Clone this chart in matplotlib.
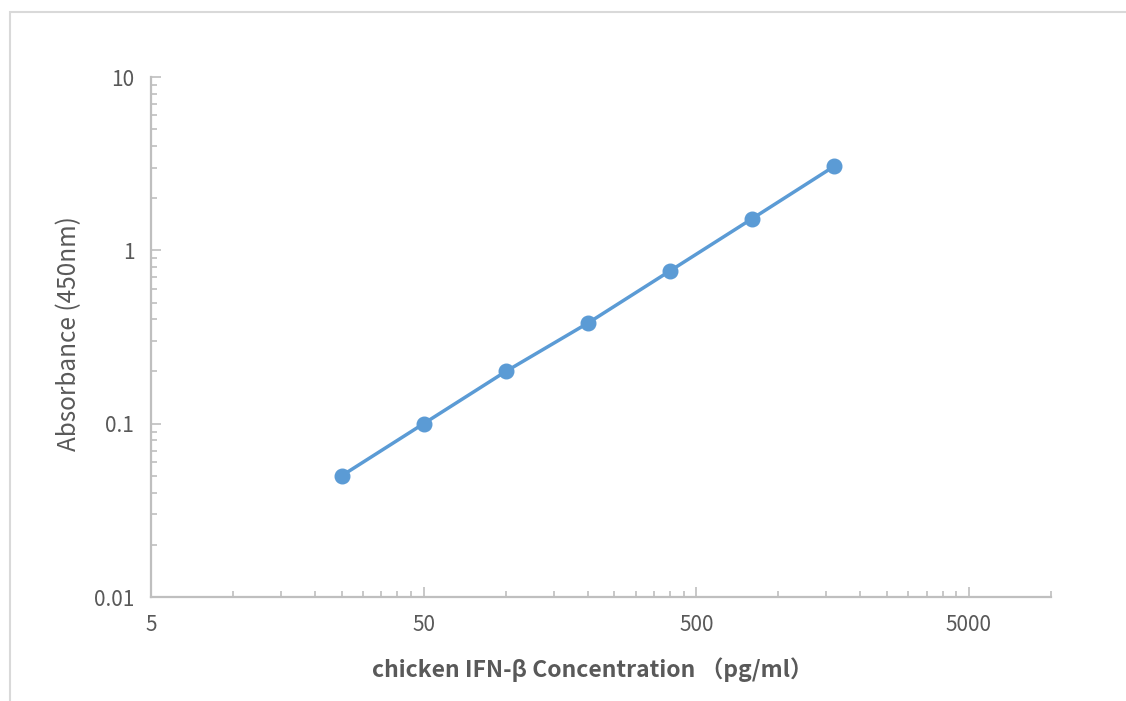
import numpy as np
import matplotlib
matplotlib.use("Agg")
import matplotlib.pyplot as plt
from matplotlib.patches import Rectangle
from matplotlib.ticker import FixedLocator, NullFormatter

plt.rcParams['font.family'] = ['Noto Sans CJK SC', 'DejaVu Sans']

# standard curve
conc = [25, 50, 100, 200, 400, 800, 1600]
absorb = [0.05, 0.1, 0.2, 0.38, 0.76, 1.52, 3.05]

x_major = [5, 50, 500, 5000]
x_labels = ['5', '50', '500', '5000']
y_major = [0.01, 0.1, 1, 10]
y_labels = ['0.01', '0.1', '1', '10']

blue = '#5b9bd5'
grey = '#bfbfbf'
txt = '#595959'

fig = plt.figure(figsize=(11.26, 7.01), dpi=100)
fig.patches.append(Rectangle((10 / 1126, -0.1), 1.2, 0.1 + (701 - 12) / 701,
                             transform=fig.transFigure, fill=False,
                             edgecolor='#d9d9d9', lw=1.5))

ax = fig.add_axes([151 / 1126, 104 / 701, 900 / 1126, 520 / 701])
ax.plot(conc, absorb, color=blue, lw=2.5, marker='o', ms=10.5, zorder=3)

ax.set_xscale('log')
ax.set_yscale('log')
ax.set_xlim(5, 10000)
ax.set_ylim(0.01, 10)

x_minor = [d * k for d in x_major for k in range(2, 10) if d * k <= 10000]
y_minor = [d * k for d in y_major[:-1] for k in range(2, 10)]

ax.xaxis.set_major_locator(FixedLocator(x_major))
ax.xaxis.set_minor_locator(FixedLocator(x_minor))
ax.yaxis.set_major_locator(FixedLocator(y_major))
ax.yaxis.set_minor_locator(FixedLocator(y_minor))
ax.set_xticklabels(x_labels)
ax.set_yticklabels(y_labels)
ax.xaxis.set_minor_formatter(NullFormatter())
ax.yaxis.set_minor_formatter(NullFormatter())

for side in ['top', 'right']:
    ax.spines[side].set_visible(False)
for side in ['left', 'bottom']:
    ax.spines[side].set_color(grey)
    ax.spines[side].set_linewidth(1.6)

ax.tick_params(axis='x', which='major', direction='in', length=7, width=1.2,
               color=grey, labelsize=15, labelcolor=txt, pad=12)
ax.tick_params(axis='x', which='minor', direction='in', length=4.5, width=1.2,
               color=grey)
ax.tick_params(axis='y', which='major', direction='in', length=7, width=1.2,
               color=grey, labelsize=15, labelcolor=txt, pad=12)
ax.tick_params(axis='y', which='minor', direction='in', length=4.5, width=1.2,
               color=grey)

fig.text(69 / 1126, 1 - 334 / 701, 'Absorbance (450nm)', rotation=90,
         ha='center', va='center', fontsize=17.5, color=txt)
fig.text(592 / 1126, 1 - 670 / 701, 'chicken IFN-β Concentration （pg/ml）',
         ha='center', va='center', fontsize=16.5, fontweight='bold', color=txt)

fig.savefig('out.png', dpi=100, facecolor='white')
